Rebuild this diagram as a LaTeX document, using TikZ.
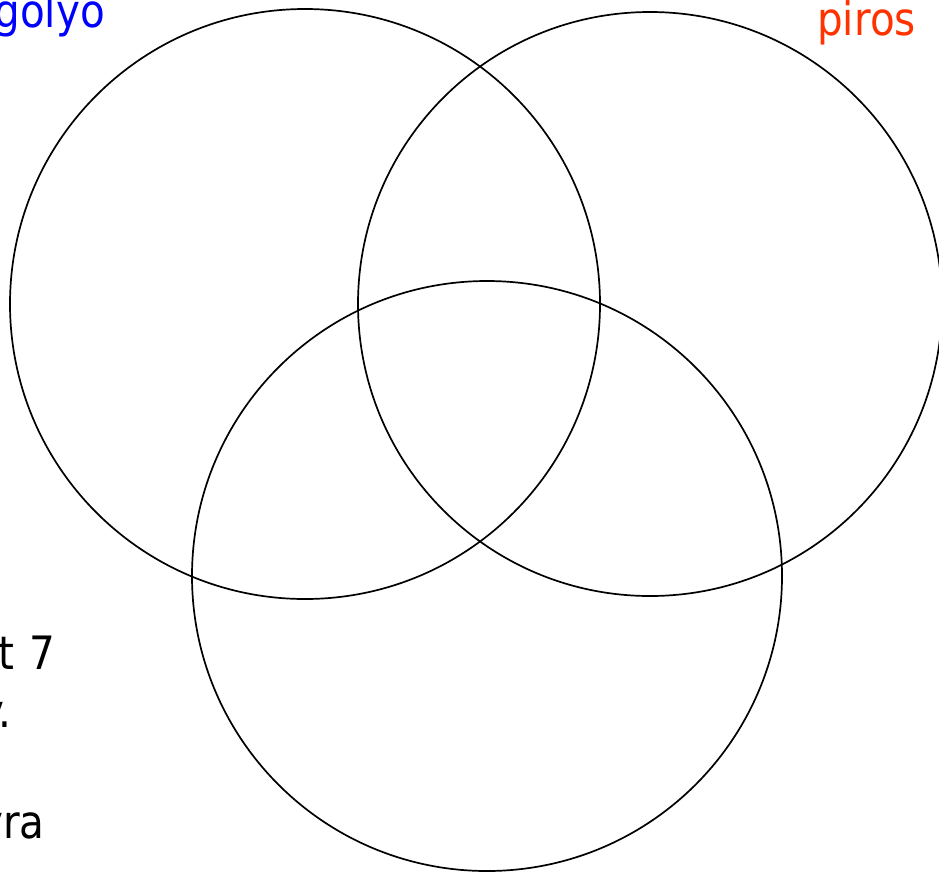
\documentclass[tikz,border=0pt]{standalone}
\usepackage{fontspec}
\setmainfont{DejaVu Sans}[FakeStretch=0.88]
\definecolor{blabel}{RGB}{0,0,255}
\definecolor{rlabel}{RGB}{255,51,0}
\begin{document}
\begin{tikzpicture}[x=1pt,y=-1pt,
  ring/.style={draw=black,line width=1.7pt},
  lbl/.style={inner sep=0pt,font=\fontsize{46}{58}\selectfont}]
\useasboundingbox (0,0) rectangle (939,871);
\clip (0,0) rectangle (939,871);
\draw[ring] (305,304) circle (295);
\draw[ring] (650,304) circle (292);
\draw[ring] (487,576) circle (295);
\node[lbl,text=blabel,anchor=base east] (golyo) at (105,27) {golyo};
\node[lbl,text=rlabel,anchor=base east] (piros) at (916,35) {piros};
\node[lbl,anchor=base east] (l1) at (55,669) {t\hspace{0.32em}7};
\node[lbl,anchor=base east] (l2) at (12,727) {y.};
\node[lbl,anchor=base east] (l3) at (45,838) {yra};
\end{tikzpicture}
\end{document}
